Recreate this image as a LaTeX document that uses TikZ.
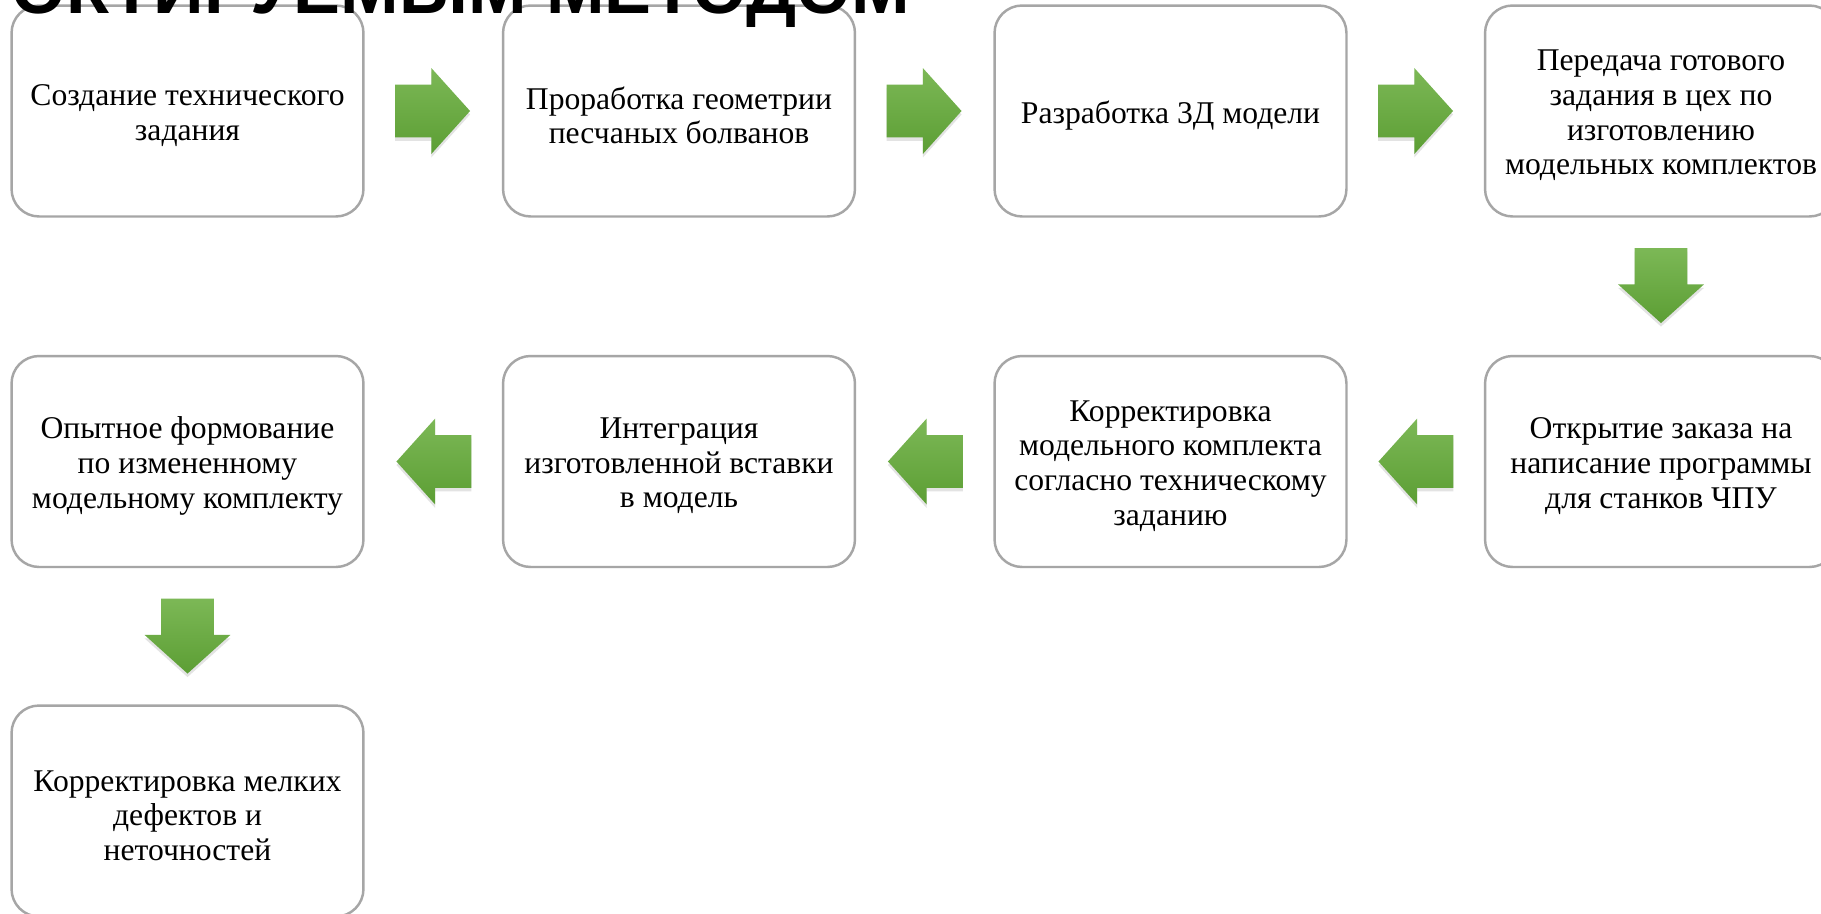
\documentclass[tikz,border=0pt]{standalone}
\usepackage{fontspec}
\setmainfont{Liberation Serif}
\newfontfamily\titlefont{Liberation Sans}
\usetikzlibrary{shapes.arrows, shadows, calc, positioning}

\definecolor{boxgray}{RGB}{166,166,166}
\definecolor{arrowlight}{RGB}{124,184,86}
\definecolor{arrowdark}{RGB}{92,158,52}

\tikzset{
  stepbox/.style={draw=boxgray, line width=1.4pt, fill=white, rounded corners=0.55cm,
    minimum width=7.04cm, minimum height=4.22cm, inner sep=0pt},
  steptext/.style={align=center, inner sep=0pt, yshift=-0.09cm,
    font=\fontsize{18}{19.7}\selectfont},
  flowarrow/.style={single arrow, draw=none, minimum height=1.5cm, minimum width=1.7cm,
    text height=0.52cm, text depth=0.52cm, single arrow head extend=0.33cm,
    single arrow tip angle=96, inner sep=0pt, anchor=tail,
    top color=arrowlight, bottom color=arrowdark,
    drop shadow={shadow xshift=0pt, shadow yshift=-2pt, opacity=0.22}},
}

\begin{document}
\begin{tikzpicture}[x=0.02cm, y=-0.02cm]
\clip (0,0) rectangle (1821,913);
\useasboundingbox (0,0) rectangle (1821,913);
\fill[white] (0,0) rectangle (1821,913);

% steps
\foreach \i/\x/\y/\txt in {
    1/187.5/111/{Создание технического\\задания},
    2/679/111/{Проработка геометрии\\песчаных болванов},
    3/1170.5/111/{Разработка 3Д модели},
    4/1661/111/{Передача готового\\задания в цех по\\изготовлению\\модельных комплектов},
    5/1661/461.5/{Открытие заказа на\\написание программы\\для станков ЧПУ},
    6/1170.5/461.5/{Корректировка\\модельного комплекта\\согласно техническому\\заданию},
    7/679/461.5/{Интеграция\\изготовленной вставки\\в модель},
    8/187.5/461.5/{Опытное формование\\по измененному\\модельному комплекту},
    9/187.5/811/{Корректировка мелких\\дефектов и\\неточностей}} {
    \node[stepbox, label={[steptext]center:{\txt}}] (b\i) at (\x,\y) {};
}

% arrows between steps
\foreach \a in {1,2,3} {
    \node[flowarrow] (r\a) at ([xshift=0.6cm]b\a.east) {};
}
\foreach \a in {5,6,7} {
    \node[flowarrow, rotate=180] (l\a) at ([xshift=-0.6cm]b\a.west) {};
}
\foreach \a in {4,8} {
    \node[flowarrow, rotate=270] (d\a) at ([yshift=-0.6cm]b\a.south) {};
}

\node[anchor=base east, inner sep=0pt, font=\titlefont\bfseries\fontsize{40}{40}\selectfont] (title) at (910,13) {ОКТИРУЕМЫМ МЕТОДОМ};
\end{tikzpicture}
\end{document}
